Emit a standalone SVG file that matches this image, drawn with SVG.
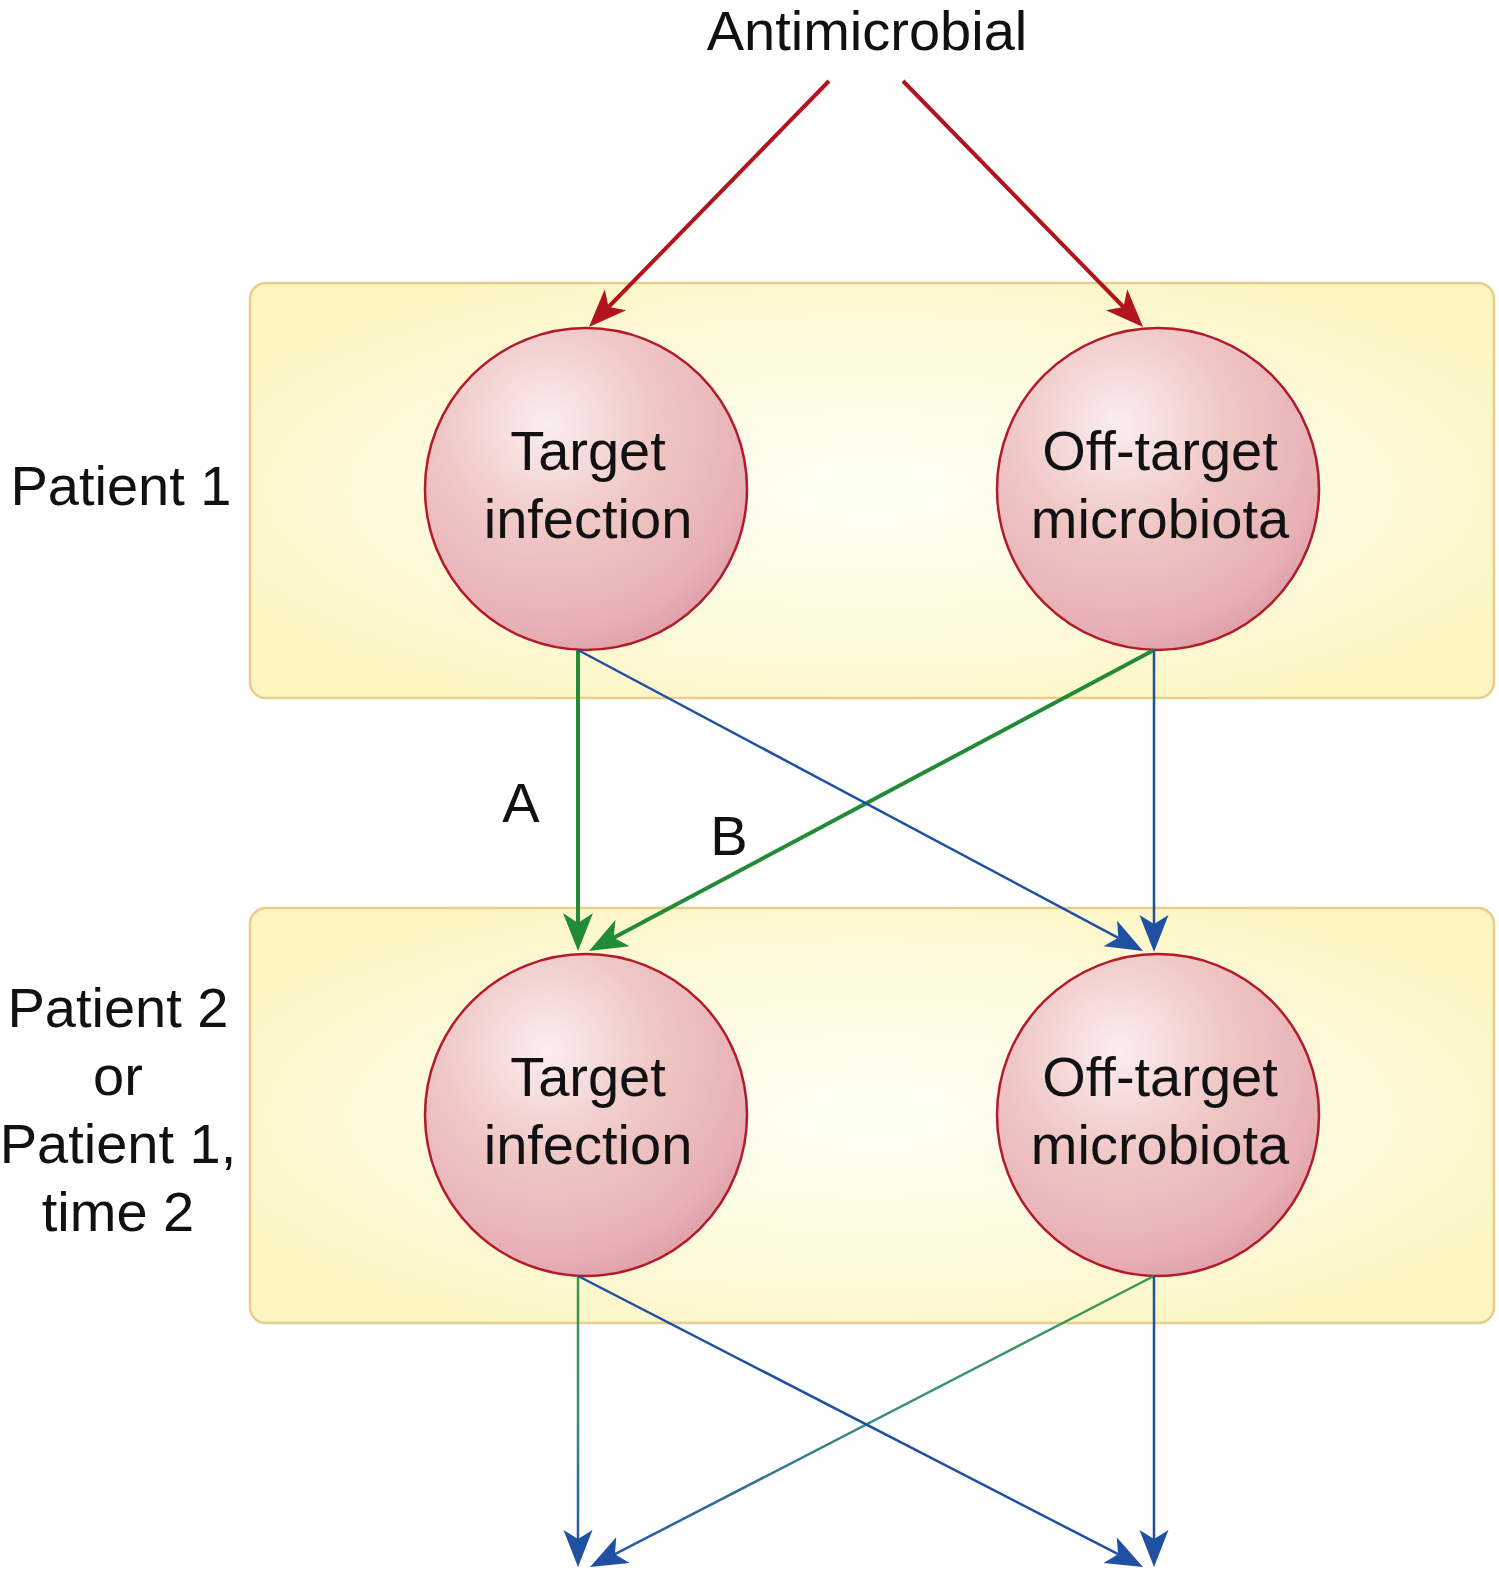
<svg xmlns="http://www.w3.org/2000/svg" width="1499" height="1581" viewBox="0 0 1499 1581">
<defs>
<style>
text{font-family:"Liberation Sans",Arial,sans-serif;fill:#111;}
.lbl{font-size:56px;text-anchor:middle;}
.box{stroke:#e6cf8c;stroke-width:2.5;}
.node{fill:url(#ballGrad);stroke:#b31a2c;stroke-width:2.5;}
.red{stroke:#b2141f;stroke-width:4;fill:none;}
.green{stroke:#238a35;stroke-width:4;fill:none;}
.blue{stroke:#1f50a2;stroke-width:2.5;fill:none;}
</style>
<radialGradient id="boxGrad" cx="0.5" cy="0.5" r="0.6">
<stop offset="0" stop-color="#fffef3"/>
<stop offset="0.6" stop-color="#fefadc"/>
<stop offset="1" stop-color="#fcf5c0"/>
</radialGradient>
<radialGradient id="ballGrad" cx="0.38" cy="0.3" r="0.75" fx="0.38" fy="0.3">
<stop offset="0" stop-color="#fbeeee"/>
<stop offset="0.45" stop-color="#efc7c5"/>
<stop offset="0.85" stop-color="#e7b0b5"/>
<stop offset="1" stop-color="#df9ea7"/>
</radialGradient>
<linearGradient id="gbL" gradientUnits="userSpaceOnUse" x1="578" y1="1276" x2="578" y2="1540">
<stop offset="0" stop-color="#3a9a48"/>
<stop offset="0.55" stop-color="#3a8a7a"/>
<stop offset="1" stop-color="#2456a4"/>
</linearGradient>
<linearGradient id="gbD" gradientUnits="userSpaceOnUse" x1="1154" y1="1276" x2="615" y2="1554">
<stop offset="0" stop-color="#3a9a48"/>
<stop offset="0.5" stop-color="#3c8f80"/>
<stop offset="1" stop-color="#2456a4"/>
</linearGradient>
<marker id="mRed" markerUnits="userSpaceOnUse" orient="auto" overflow="visible" markerWidth="40" markerHeight="32" refX="0" refY="0">
<path d="M28,0 L-10,-15 L0,0 L-10,15 Z" fill="#b2141f"/>
</marker>
<marker id="mGreen" markerUnits="userSpaceOnUse" orient="auto" overflow="visible" markerWidth="40" markerHeight="32" refX="0" refY="0">
<path d="M28,0 L-10,-15 L0,0 L-10,15 Z" fill="#238a35"/>
</marker>
<marker id="mBlue" markerUnits="userSpaceOnUse" orient="auto" overflow="visible" markerWidth="40" markerHeight="32" refX="0" refY="0">
<path d="M28,0 L-9,-14.5 L0,0 L-9,14.5 Z" fill="#1f50a2"/>
</marker>
</defs>
<rect width="1499" height="1581" fill="#ffffff"/>

<g id="box-patient1">
<rect class="box" x="250" y="283" width="1244" height="415" rx="16" fill="url(#boxGrad)"/>
</g>
<g id="box-patient2">
<rect class="box" x="250" y="908" width="1244" height="415" rx="16" fill="url(#boxGrad)"/>
</g>

<g id="label-antimicrobial"><text class="lbl" x="867" y="50" font-size="54">Antimicrobial</text></g>
<g id="label-patient1"><text class="lbl" x="121" y="505">Patient 1</text></g>
<g id="label-patient2">
<text class="lbl" x="118" y="1027">Patient 2</text>
<text class="lbl" x="118" y="1095">or</text>
<text class="lbl" x="118" y="1163">Patient 1,</text>
<text class="lbl" x="118" y="1231">time 2</text>
</g>

<g id="node-target1">
<circle class="node" cx="586" cy="489" r="161"/>
<text class="lbl" x="588" y="470">Target</text>
<text class="lbl" x="588" y="538">infection</text>
</g>
<g id="node-offtarget1">
<circle class="node" cx="1158" cy="489" r="161"/>
<text class="lbl" x="1160" y="470">Off-target</text>
<text class="lbl" x="1160" y="538">microbiota</text>
</g>
<g id="node-target2">
<circle class="node" cx="586" cy="1115" r="161"/>
<text class="lbl" x="588" y="1096">Target</text>
<text class="lbl" x="588" y="1164">infection</text>
</g>
<g id="node-offtarget2">
<circle class="node" cx="1158" cy="1115" r="161"/>
<text class="lbl" x="1160" y="1096">Off-target</text>
<text class="lbl" x="1160" y="1164">microbiota</text>
</g>

<g id="connectors">
<line class="red" x1="829" y1="81" x2="608.5" y2="307" marker-end="url(#mRed)"/>
<line class="red" x1="903" y1="81" x2="1123.5" y2="307" marker-end="url(#mRed)"/>
<line class="green" x1="578" y1="650" x2="578" y2="923" marker-end="url(#mGreen)"/>
<line class="green" x1="1154" y1="650" x2="613.7" y2="937.8" marker-end="url(#mGreen)"/>
<line class="blue" x1="578" y1="650" x2="1118.3" y2="937.8" marker-end="url(#mBlue)"/>
<line class="blue" x1="1154" y1="650" x2="1154" y2="924" marker-end="url(#mBlue)"/>
<line x1="578" y1="1276" x2="578" y2="1539" stroke="url(#gbL)" stroke-width="2.5" marker-end="url(#mBlue)"/>
<line x1="1154" y1="1276" x2="614.9" y2="1554.2" stroke="url(#gbD)" stroke-width="2.5" marker-end="url(#mBlue)"/>
<line class="blue" x1="578" y1="1276" x2="1118.1" y2="1554.2" marker-end="url(#mBlue)"/>
<line class="blue" x1="1154" y1="1276" x2="1154" y2="1539" marker-end="url(#mBlue)"/>
<text class="lbl" x="521" y="822">A</text>
<text class="lbl" x="729" y="855">B</text>
</g>
</svg>
